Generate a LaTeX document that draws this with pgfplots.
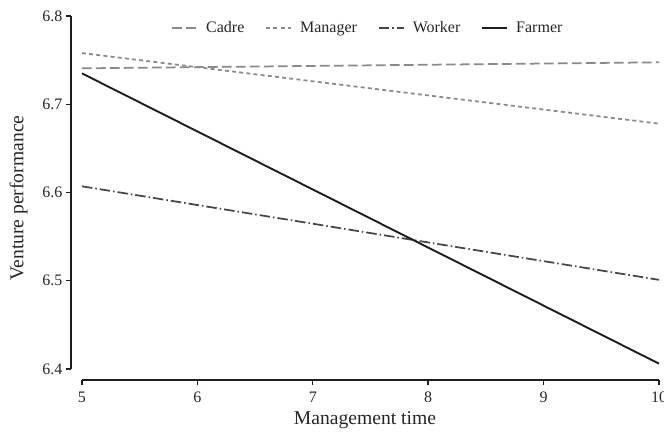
\documentclass[border=0pt]{standalone}
\usepackage{pgfplots}
\pgfplotsset{compat=1.18}
\usepackage{fontspec}
\setmainfont{Liberation Serif}
\definecolor{cadrec}{HTML}{8A8A8A}
\definecolor{managerc}{HTML}{8A8A8A}
\definecolor{workerc}{HTML}{474747}
\definecolor{farmerc}{HTML}{1E1E1E}
\definecolor{txt}{HTML}{262626}
\definecolor{spinec}{HTML}{1E1E1E}
\begin{document}
\begin{tikzpicture}
\begin{axis}[name=ax, scale only axis, width=588pt, height=364pt,
  xmin=4.905, xmax=10, ymin=6.3875, ymax=6.8,
  axis lines*=left, axis line style={draw=none},
  clip=false,
  xtick={5,6,7,8,9,10}, xticklabels={5,6,7,8,9,10},
  ytick={6.4,6.5,6.6,6.7,6.8}, yticklabels={6.4,6.5,6.6,6.7,6.8},
  tick align=outside, major tick length=5pt,
  tick style={line width=1.4pt, color=spinec},
  tick label style={font=\fontsize{16}{19}\selectfont, text=txt},
  xticklabel shift=3pt,
  label style={font=\fontsize{19.6}{23}\selectfont, text=txt},
  xlabel={Management time}, ylabel={Venture performance},
  xlabel shift=2pt, ylabel shift=8pt,
  legend style={draw=none, fill=none, at={(rel axis cs:0.505,0.967)}, anchor=center,
    font=\fontsize{16}{19}\selectfont, text=txt,
    /tikz/every odd column/.append style={column sep=6pt},
    /tikz/every even column/.append style={column sep=19pt}},
  legend columns=4,
  legend image code/.code={\draw[#1] (0pt,0pt) -- (25pt,0pt);},
]
\addplot[cadrec, line width=1.75pt, dash pattern=on 9.7pt off 4.3pt] coordinates {(5,6.7407) (10,6.7475)};
\addlegendentry{Cadre}
\addplot[managerc, line width=1.75pt, dash pattern=on 4pt off 3.2pt] coordinates {(5,6.758) (10,6.678)};
\addlegendentry{Manager}
\addplot[workerc, line width=1.75pt, dash pattern=on 10.5pt off 3pt on 1.5pt off 3pt] coordinates {(5,6.607) (10,6.501)};
\addlegendentry{Worker}
\addplot[farmerc, line width=1.9pt] coordinates {(5,6.735) (10,6.406)};
\addlegendentry{Farmer}
\draw[spinec, line width=2pt] (axis cs:4.905,6.4) -- (axis cs:4.905,6.8);
\draw[spinec, line width=2pt] (axis cs:5,6.3875) -- (axis cs:10,6.3875);
\end{axis}
\pgfresetboundingbox
\path[use as bounding box] ([shift={(-71pt,-52pt)}]ax.south west) rectangle ([shift={(593pt,380pt)}]ax.south west);
\end{tikzpicture}
\end{document}
